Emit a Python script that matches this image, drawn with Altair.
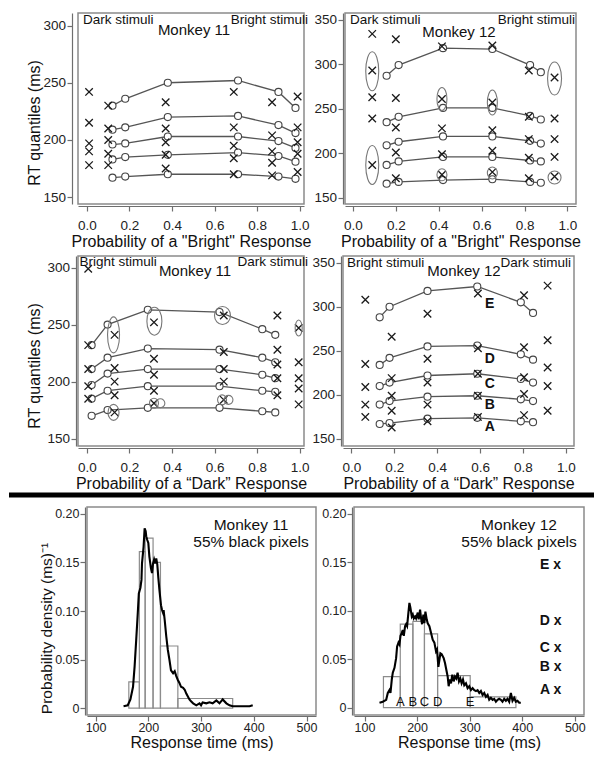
import altair as alt
import pandas as pd

FONT = "Liberation Sans"
P_TICKS = [0.0, 0.2, 0.4, 0.6, 0.8, 1.0]
LETTERS = ["A", "B", "C", "D", "E"]

# ---------------- Monkey 11, P("Bright") ----------------
M11B_MODEL_P = [0.12, 0.18, 0.38, 0.71, 0.90, 0.98]
M11B_MODEL_Q = [
    [167, 168, 170, 170, 168, 166],
    [183, 185, 187, 189, 186, 181],
    [196, 197, 203, 203, 199, 193],
    [209, 211, 220, 221, 213, 206],
    [230, 236, 250, 252, 242, 228],
]
M11B_DATA_P = [0.01, 0.10, 0.37, 0.69, 0.87, 0.99]
M11B_DATA_Q = [
    [178, 178, 175, 170, 169, 172],
    [190, 188, 187, 184, 180, 188],
    [197, 200, 198, 195, 190, 198],
    [215, 210, 210, 211, 204, 211],
    [242, 230, 233, 242, 233, 238],
]
M11B_RINGS = []

# ---------------- Monkey 12, P("Bright") ----------------
M12B_MODEL_P = [0.157, 0.213, 0.42, 0.65, 0.826, 0.876]
M12B_MODEL_Q = [
    [166, 168, 170, 171, 168, 167],
    [187, 191, 196, 196, 192, 191],
    [209, 213, 219, 219, 214, 211],
    [235, 241, 251, 251, 242, 238],
    [287, 299, 318, 317, 299, 291],
]
M12B_DATA_P = [0.09, 0.20, 0.415, 0.65, 0.82, 0.94]
M12B_DATA_Q = [
    [187, 172, 176, 179, 172, 174],
    [239, 201, 199, 203, 195, 196],
    [263, 229, 228, 226, 216, 216],
    [293, 262, 261, 257, 241, 239],
    [334, 328, 320, 321, 293, 285],
]
# highlighted points: (p, rt, ring width px, ring height px)
M12B_RINGS = [
    (0.09, 292, 13, 39), (0.09, 187, 13, 39), (0.415, 261, 10, 23),
    (0.65, 257, 10, 25), (0.94, 284, 14, 33), (0.415, 176, 10, 12),
    (0.65, 178, 10, 12), (0.94, 173, 13, 13),
]

# ---------------- Monkey 11, P("Dark") ----------------
M11D_MODEL_P = [0.022, 0.097, 0.286, 0.623, 0.824, 0.885]
M11D_MODEL_Q = [
    [170, 175, 177, 177, 174, 173],
    [185, 192, 196, 196, 192, 191],
    [197, 207, 211, 211, 206, 203],
    [211, 221, 229, 228, 221, 217],
    [232, 250, 263, 261, 246, 241],
]
M11D_DATA_P = [0.006, 0.13, 0.315, 0.643, 0.895, 0.995]
M11D_DATA_Q = [
    [185, 173, 181, 184, 188, 180],
    [196, 188, 192, 200, 203, 194],
    [211, 200, 206, 211, 215, 203],
    [232, 212, 220, 226, 228, 217],
    [299, 241, 252, 258, 258, 247],
]
M11D_RINGS = [
    (0.125, 241, 12, 36), (0.317, 253, 15, 28), (0.637, 258, 16, 18),
    (0.125, 173, 11, 16), (0.315, 181, 9, 10), (0.345, 181, 9, 9),
    (0.635, 184, 9, 10), (0.665, 184, 9, 9), (0.995, 247, 7, 16),
]

# ---------------- Monkey 12, P("Dark") ----------------
M12D_MODEL_P = [0.132, 0.178, 0.355, 0.587, 0.79, 0.847]
M12D_MODEL_Q = [
    [167, 168, 173, 174, 170, 169],
    [189, 193, 198, 199, 195, 193],
    [210, 214, 222, 224, 218, 214],
    [234, 242, 255, 256, 246, 240],
    [288, 300, 318, 323, 305, 293],
]
M12D_DATA_P = [0.065, 0.188, 0.355, 0.59, 0.805, 0.915]
M12D_DATA_Q = [
    [175, 163, 170, 175, 177, 182],
    [189, 182, 189, 199, 201, 210],
    [209, 199, 214, 224, 220, 231],
    [235, 219, 241, 253, 254, 262],
    [308, 266, 292, 315, 313, 324],
]
M12D_RINGS = []
M12D_LETTER_P = 0.645
M12D_LETTER_RT = [164, 189, 212, 241, 303]

# ---------------- RT distributions (55% black pixels) ----------------
M11_EDGES = [163, 183, 194, 209, 223, 256, 360]
M11_HEIGHTS = [0.027, 0.161, 0.175, 0.150, 0.064, 0.010]
M11_CURVE_MS = [153, 161, 166, 171, 174, 177, 180, 182, 185, 187,
                188, 191, 193, 195, 196, 198, 200, 202, 205, 207,
                209, 211, 213, 215, 217, 219, 221, 224, 226, 228,
                229, 231, 234, 237, 240, 243, 247, 250, 253, 256,
                259, 262, 266, 269, 272, 275, 278, 281, 285, 291,
                297, 300, 303, 310, 316, 322, 329, 335, 341, 348,
                354, 360, 367, 373, 379, 385, 392, 398]
M11_CURVE_D = [0.002, 0.003, 0.009, 0.022, 0.043, 0.070, 0.098, 0.118, 0.124, 0.132,
               0.149, 0.166, 0.185, 0.182, 0.177, 0.173, 0.170, 0.156, 0.144, 0.139,
               0.149, 0.153, 0.149, 0.154, 0.148, 0.134, 0.122, 0.106, 0.101, 0.098,
               0.101, 0.091, 0.074, 0.060, 0.050, 0.039, 0.036, 0.038, 0.033, 0.029,
               0.026, 0.022, 0.021, 0.019, 0.015, 0.012, 0.009, 0.007, 0.005, 0.003,
               0.005, 0.003, 0.006, 0.005, 0.006, 0.005, 0.008, 0.005, 0.009, 0.005,
               0.003, 0.002, 0.002, 0.002, 0.002, 0.002, 0.002, 0.003]

M12_EDGES = [136, 168, 192, 214, 239, 301, 388]
M12_HEIGHTS = [0.032, 0.086, 0.089, 0.076, 0.033, 0.011]
M12_CURVE_MS = [128.5, 134.8, 141.2, 144.3, 147.5, 149.4, 151.9, 153.8, 157.0, 160.1,
                162.0, 164.6, 166.5, 168.4, 170.9, 172.8, 174.7, 177.2, 179.1, 181.0,
                183.5, 185.4, 187.3, 189.9, 191.8, 193.7, 196.2, 198.1, 201.3, 203.1,
                205.7, 207.6, 209.5, 212.0, 213.9, 215.8, 218.3, 220.2, 223.4, 226.6,
                229.7, 232.9, 236.0, 237.9, 240.5, 242.4, 244.3, 246.8, 250.6, 253.1,
                255.6, 258.2, 260.1, 262.0, 264.5, 267.0, 269.6, 272.1, 274.6, 277.1,
                279.7, 282.2, 284.7, 287.3, 289.8, 293.0, 296.1, 299.3, 302.5, 305.6,
                308.8, 312.0, 315.1, 318.3, 321.4, 324.6, 327.8, 330.9, 334.1, 337.2,
                340.4, 343.6, 346.7, 349.9, 353.1, 356.2, 359.4, 362.5, 365.7, 368.9,
                372.0, 375.2, 378.4, 381.5, 384.7, 387.8, 391.0, 394.2, 397.3]
M12_CURVE_D = [0.005, 0.006, 0.008, 0.015, 0.018, 0.015, 0.029, 0.036, 0.041, 0.051,
               0.063, 0.067, 0.065, 0.074, 0.077, 0.080, 0.074, 0.084, 0.086, 0.084,
               0.098, 0.108, 0.103, 0.094, 0.096, 0.092, 0.094, 0.092, 0.098, 0.091,
               0.101, 0.092, 0.086, 0.096, 0.087, 0.099, 0.091, 0.087, 0.084, 0.077,
               0.070, 0.067, 0.058, 0.060, 0.042, 0.049, 0.056, 0.055, 0.051, 0.046,
               0.039, 0.032, 0.022, 0.029, 0.025, 0.034, 0.027, 0.032, 0.030, 0.036,
               0.027, 0.030, 0.025, 0.029, 0.023, 0.025, 0.020, 0.022, 0.018, 0.020,
               0.018, 0.017, 0.018, 0.015, 0.017, 0.013, 0.015, 0.011, 0.013, 0.008,
               0.010, 0.008, 0.009, 0.006, 0.008, 0.009, 0.008, 0.006, 0.009, 0.007,
               0.009, 0.006, 0.015, 0.007, 0.010, 0.006, 0.007, 0.005, 0.005]
M12_LETTER_D = 0.0055
M12_SIDE_MS = 454
M12_SIDE_D = [0.0182, 0.0417, 0.0614, 0.089, 0.147]

# ---------------- styling ----------------
XPATH = "M-1,-1L1,1M-1,1L1,-1"
LINE_C = "#555555"
PT_C = "#444444"
X_C = "#1a1a1a"
BOX_C = "#8a8a8a"


def ellipse_path(w, h):
    s = max(w, h)
    rx, ry = w / s, h / s
    k = 0.5523
    f = lambda v: f"{v:.3f}"
    return (f"M0,{f(-ry)}C{f(k*rx)},{f(-ry)} {f(rx)},{f(-k*ry)} {f(rx)},0"
            f"C{f(rx)},{f(k*ry)} {f(k*rx)},{f(ry)} 0,{f(ry)}"
            f"C{f(-k*rx)},{f(ry)} {f(-rx)},{f(k*ry)} {f(-rx)},0"
            f"C{f(-rx)},{f(-k*ry)} {f(-k*rx)},{f(-ry)} 0,{f(-ry)}Z")


def note(text, x, y, align="left", size=13.5, weight="normal"):
    return alt.Chart(pd.DataFrame({"t": [text]})).mark_text(
        align=align, baseline="middle", font=FONT, fontSize=size,
        fontWeight=weight, color="#111111"
    ).encode(x=alt.value(x), y=alt.value(y), text="t:N")


def divider():
    # thick black separator line under the middle row (decoration, in panel pixels)
    return alt.Chart(pd.DataFrame({"v": [0]})).mark_rect(color="black").encode(
        x=alt.value(-69), x2=alt.value(516), y=alt.value(236.5), y2=alt.value(241.5))


def qp_panel(model_p, model_q, data_p, data_q, rings, xdom, ydom, yticks,
             w, h, xtitle, yoffset, ytitle_pad, notes, letters=None, extra_layers=None):
    mdf = pd.DataFrame([{"p": p, "rt": v, "q": i}
                        for i, row in enumerate(model_q) for p, v in zip(model_p, row)])
    ddf = pd.DataFrame([{"p": p, "rt": v} for row in data_q for p, v in zip(data_p, row)])
    xaxis = alt.Axis(values=P_TICKS, format=".1f", title=xtitle, offset=2,
                     labelPadding=7, titlePadding=2)
    if ytitle_pad is not None:
        yaxis = alt.Axis(values=yticks, format="d", title="RT quantiles (ms)", offset=yoffset,
                         labelPadding=1.5, minExtent=55, maxExtent=55,
                         titlePadding=ytitle_pad, titleY=109.5)
    else:
        yaxis = alt.Axis(values=yticks, format="d", title=None, offset=yoffset, labelPadding=1.5)
    X = alt.X("p:Q", scale=alt.Scale(domain=xdom, nice=False, zero=False), axis=xaxis)
    Y = alt.Y("rt:Q", scale=alt.Scale(domain=ydom, nice=False, zero=False), axis=yaxis)

    layers = [
        alt.Chart(mdf).mark_line(color=LINE_C, strokeWidth=1.3).encode(x=X, y=Y, detail="q:N"),
        alt.Chart(mdf).mark_point(shape="circle", filled=True, fill="white", stroke=PT_C,
                                  strokeWidth=1.1, size=50, opacity=1).encode(x=X, y=Y),
        alt.Chart(ddf).mark_point(shape=XPATH, filled=False, color=X_C, strokeWidth=1.3,
                                  size=56, opacity=1).encode(x=X, y=Y),
    ]
    if rings:
        rdf = pd.DataFrame([{"p": p, "rt": v, "path": ellipse_path(rw, rh),
                             "area": max(rw, rh) ** 2} for p, v, rw, rh in rings])
        layers.append(
            alt.Chart(rdf).mark_point(filled=False, color="#777777", strokeWidth=1.1, opacity=1)
            .encode(x=X, y=Y, shape=alt.Shape("path:N", scale=None, legend=None),
                    size=alt.Size("area:Q", scale=None, legend=None)))
    if letters is not None:
        lp, lrt = letters
        ldf = pd.DataFrame({"p": [lp] * len(lrt), "rt": lrt, "t": LETTERS})
        layers.append(alt.Chart(ldf).mark_text(font=FONT, fontSize=14, fontWeight="bold",
                                               color="#111111", baseline="middle")
                      .encode(x=X, y=Y, text="t:N"))
    layers += notes
    if extra_layers:
        layers += extra_layers
    return alt.layer(*layers).properties(width=w, height=h)


def hist_panel(edges, heights, cms, cd, xdom, ydom, w, h, left_axis, notes, extra=None):
    bdf = pd.DataFrame({"x0": edges[:-1], "x1": edges[1:], "d": heights})
    cdf = pd.DataFrame({"ms": cms, "d": cd})
    xaxis = alt.Axis(values=[100, 200, 300, 400, 500], format="d", title="Response time (ms)",
                     offset=1, labelPadding=0, titlePadding=1, labelFontSize=12.5)
    lab = "datum.value == 0 ? '0' : format(datum.value, '.2f')"
    if left_axis:
        yaxis = alt.Axis(values=[0, 0.05, 0.10, 0.15, 0.20], labelExpr=lab, labelFontSize=12.5,
                         labelPadding=1, title="Probability density (ms)\u207b\u00b9",
                         titleFontSize=15.5, offset=2, minExtent=60, maxExtent=60,
                         titlePadding=-29, titleY=121)
    else:
        yaxis = alt.Axis(values=[0, 0.05, 0.10, 0.15, 0.20], labelExpr=lab, labelFontSize=12.5,
                         labelPadding=1, title=None, offset=2)
    xs = alt.Scale(domain=xdom, nice=False, zero=False)
    ys = alt.Scale(domain=ydom, nice=False, zero=False)
    layers = [
        alt.Chart(bdf).mark_rect(fill="transparent", stroke="#8c8c8c", strokeWidth=1.2).encode(
            x=alt.X("x0:Q", scale=xs, axis=xaxis), x2="x1:Q",
            y=alt.Y("d:Q", scale=ys, axis=yaxis), y2=alt.datum(0)),
        alt.Chart(cdf).mark_line(color="black", strokeWidth=2.1).encode(
            x=alt.X("ms:Q", scale=xs, axis=xaxis), y=alt.Y("d:Q", scale=ys, axis=yaxis)),
    ]
    if extra is not None:
        for df, size, weight in extra:
            layers.append(alt.Chart(df).mark_text(font=FONT, fontSize=size, fontWeight=weight,
                                                  color="#111111", baseline="middle")
                          .encode(x=alt.X("ms:Q", scale=xs, axis=xaxis),
                                  y=alt.Y("d:Q", scale=ys, axis=yaxis), text="t:N"))
    layers += notes
    return alt.layer(*layers).properties(width=w, height=h)


BRIGHT_T = 'Probability of a "Bright" Response'
DARK_T = "Probability of a \u201cDark\u201d Response"

p1 = qp_panel(M11B_MODEL_P, M11B_MODEL_Q, M11B_DATA_P, M11B_DATA_Q, M11B_RINGS,
              [-0.042, 1.02], [144, 311], [150, 200, 250, 300], 226, 191, BRIGHT_T, 6, -25,
              [note("Dark stimuli", 5, 7), note("Bright stimuli", 230, 7, "right"),
               note("Monkey 11", 116, 17, "center", 15)])
p2 = qp_panel(M12B_MODEL_P, M12B_MODEL_Q, M12B_DATA_P, M12B_DATA_Q, M12B_RINGS,
              [-0.037, 1.04], [143.2, 357.4], [150, 200, 250, 300, 350], 231, 191, BRIGHT_T, 2, None,
              [note("Dark stimuli", 5, 6.5), note("Bright stimuli", 230, 6.5, "right"),
               note("Monkey 12", 114, 18.5, "center", 15)])
p3 = qp_panel(M11D_MODEL_P, M11D_MODEL_Q, M11D_DATA_P, M11D_DATA_Q, M11D_RINGS,
              [-0.042, 1.02], [143.5, 310.2], [150, 200, 250, 300], 226, 190, DARK_T, 2, -21,
              [note("Bright stimuli", 1.5, 6), note("Dark stimuli", 230, 6, "right"),
               note("Monkey 11", 117, 14.5, "center", 15)],
              extra_layers=[divider()])
p4 = qp_panel(M12D_MODEL_P, M12D_MODEL_Q, M12D_DATA_P, M12D_DATA_Q, M12D_RINGS,
              [-0.039, 1.038], [142, 357.6], [150, 200, 250, 300, 350], 231, 190, DARK_T, 2, None,
              [note("Bright stimuli", 4, 6.5), note("Dark stimuli", 228, 6.5, "right"),
               note("Monkey 12", 121, 15, "center", 15)],
              letters=(M12D_LETTER_P, M12D_LETTER_RT))

letters_df = pd.DataFrame({"ms": M12_EDGES[1:6], "d": [M12_LETTER_D] * 5, "t": LETTERS})
side_df = pd.DataFrame({"ms": [M12_SIDE_MS] * 5, "d": M12_SIDE_D, "t": [l + " x" for l in LETTERS]})

p5 = hist_panel(M11_EDGES, M11_HEIGHTS, M11_CURVE_MS, M11_CURVE_D, [83.7, 518], [-0.007, 0.207],
                229, 208, True,
                [note("Monkey 11", 164, 17.5, "center", 15.5),
                 note("55% black pixels", 164, 35, "center", 15.5)])
p6 = hist_panel(M12_EDGES, M12_HEIGHTS, M12_CURVE_MS, M12_CURVE_D, [80, 517.5], [-0.0077, 0.207],
                230, 208, False,
                [note("Monkey 12", 165, 17.5, "center", 15.5),
                 note("55% black pixels", 165, 35, "center", 15.5)],
                extra=[(letters_df, 13, "normal"), (side_df, 14, "bold")])


def blank(ww, hh):
    return alt.Chart(pd.DataFrame({"v": pd.Series([], dtype=float)})).mark_point(opacity=0).properties(
        width=ww, height=hh, view=alt.ViewBackground(fill="transparent", stroke="transparent"))


row1 = alt.hconcat(blank(28, 1), p1, p2, spacing=41, bounds="flush")
row2 = alt.hconcat(blank(30, 1), p3, p4, spacing=39, bounds="flush")
row3 = alt.hconcat(blank(40, 1), p5, p6, spacing=38, bounds="flush")

chart = alt.vconcat(row1, blank(1, 1), row2, blank(1, 5.5), row3,
                    spacing=0, bounds="full").properties(
    padding={"left": 0, "top": 3, "right": 0, "bottom": 0}
).configure_view(
    stroke=BOX_C, strokeWidth=1.5
).configure_axis(
    labelFont=FONT, titleFont=FONT, labelFontSize=13.5, titleFontSize=16,
    titleFontWeight="normal", labelColor="#222222", titleColor="#111111",
    domainColor="#6e6e6e", tickColor="#6e6e6e", domainWidth=1.2, tickWidth=1.2,
    tickSize=5, grid=False, labelFlush=False, labelOverlap=False
)

chart.save("out.html", embed_options={"renderer": "svg", "actions": False})
